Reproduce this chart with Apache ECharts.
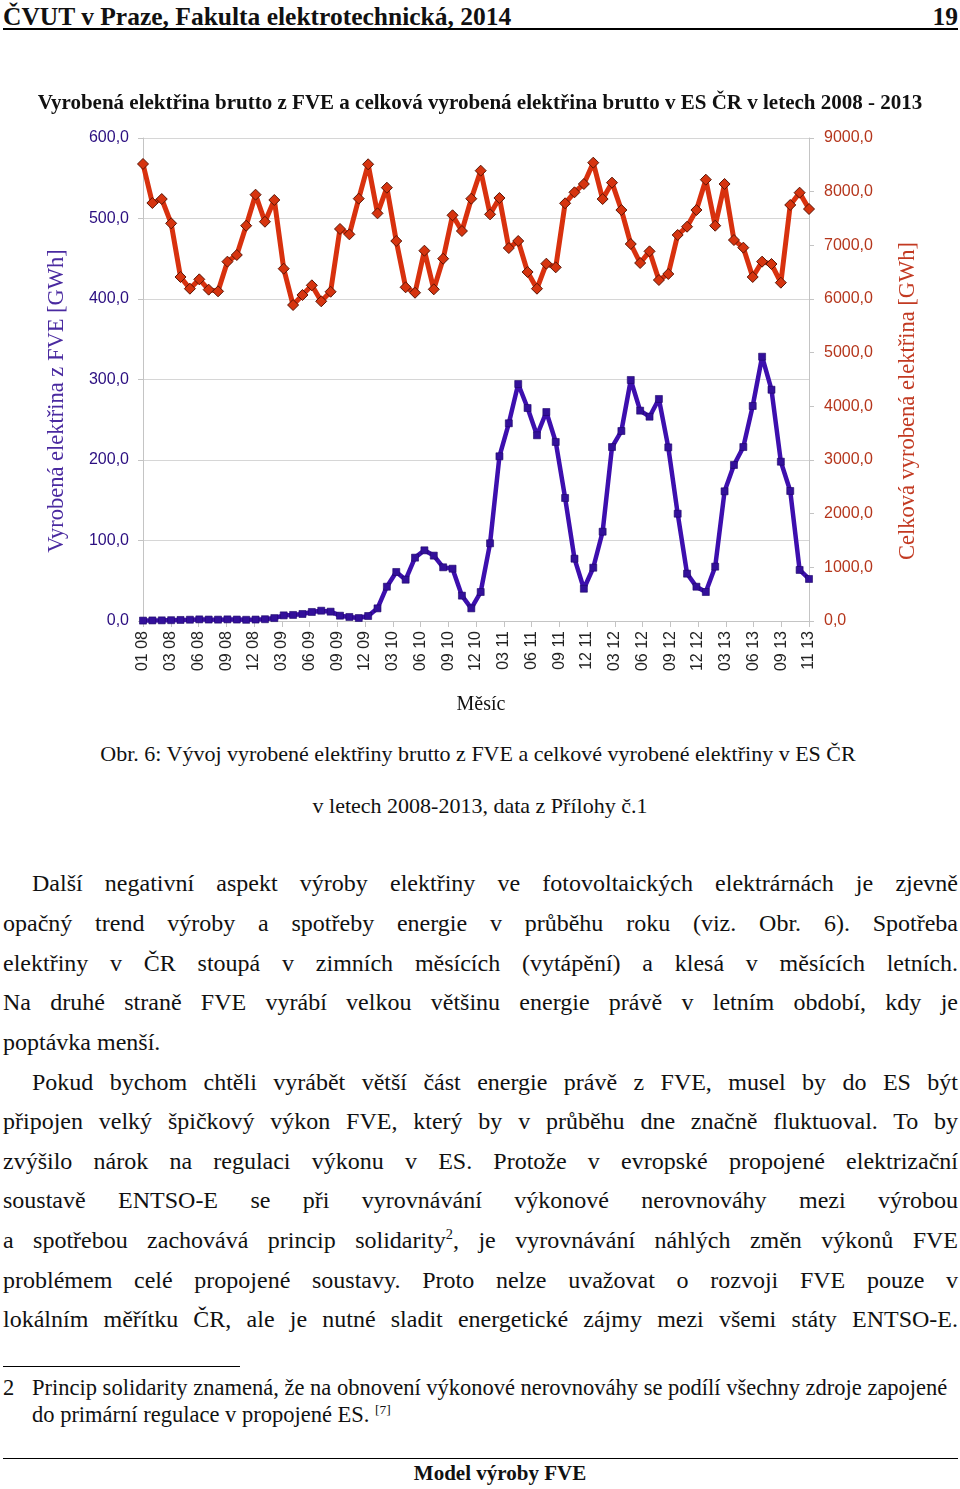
<!DOCTYPE html>
<html lang="cs">
<head>
<meta charset="utf-8">
<script src="https://cdn.jsdelivr.net/npm/echarts@6/dist/echarts.min.js"></script>
<style>
  html, body { margin: 0; padding: 0; background: #fff; }
  #page { position: relative; width: 960px; height: 1489px; background: #fff; color: #111; font-family: 'Liberation Serif', serif; }
  .abs { position: absolute; }
  #hdr { left: 3px; top: 2px; font-weight: bold; font-size: 25.5px; line-height: 29px; }
  #pgno { right: 2px; top: 2px; font-weight: bold; font-size: 25.5px; line-height: 29px; }
  #hrule { left: 3px; width: 955px; top: 28px; height: 2px; background: #000; }
  #chart { left: 0; top: 80px; width: 960px; height: 660px; }
  .cap { left: 0; width: 956px; text-align: center; font-size: 22px; line-height: 26px; }
  .ln { left: 3px; width: 955px; font-size: 24px; line-height: 30px; text-align: justify; text-align-last: justify; white-space: nowrap; }
  .ln.ind { left: 32px; width: 926px; }
  .ln.last { text-align-last: left; }
  #frule { left: 3px; width: 237px; top: 1366px; height: 1px; background: #000; }
  .fn { font-size: 22.5px; line-height: 26px; }
  #brule { left: 3px; width: 955px; top: 1458px; height: 1px; background: #000; }
  #footer { left: 0; width: 1000px; text-align: center; top: 1460px; font-weight: bold; font-size: 21px; line-height: 26px; }
  sup { font-size: 60%; line-height: 0; }
</style>
</head>
<body>
<div id="page">
  <div id="hdr" class="abs">ČVUT v Praze, Fakulta elektrotechnická, 2014</div>
  <div id="pgno" class="abs">19</div>
  <div id="hrule" class="abs"></div>
  <div id="chart" class="abs"></div>

  <div class="abs cap" style="top:741px;">Obr. 6: Vývoj vyrobené elektřiny brutto z FVE a celkové vyrobené elektřiny v ES ČR</div>
  <div class="abs cap" style="top:793px; width:960px;">v letech 2008-2013, data z Přílohy č.1</div>

  <div class="abs ln ind" style="top:868px;">Další negativní aspekt výroby elektřiny ve fotovoltaických elektrárnách je zjevně</div>
  <div class="abs ln" style="top:908px;">opačný trend výroby a spotřeby energie v průběhu roku (viz. Obr. 6). Spotřeba</div>
  <div class="abs ln" style="top:948px;">elektřiny v ČR stoupá v zimních měsících (vytápění) a klesá v měsících letních.</div>
  <div class="abs ln" style="top:987px;">Na druhé straně FVE vyrábí velkou většinu energie právě v letním období, kdy je</div>
  <div class="abs ln last" style="top:1027px;">poptávka menší.</div>
  <div class="abs ln ind" style="top:1067px;">Pokud bychom chtěli vyrábět větší část energie právě z FVE, musel by do ES být</div>
  <div class="abs ln" style="top:1106px;">připojen velký špičkový výkon FVE, který by v průběhu dne značně fluktuoval. To by</div>
  <div class="abs ln" style="top:1146px;">zvýšilo nárok na regulaci výkonu v ES. Protože v evropské propojené elektrizační</div>
  <div class="abs ln" style="top:1185px;">soustavě ENTSO-E se při vyrovnávání výkonové nerovnováhy mezi výrobou</div>
  <div class="abs ln" style="top:1225px;">a spotřebou zachovává princip solidarity<sup>2</sup>, je vyrovnávání náhlých změn výkonů FVE</div>
  <div class="abs ln" style="top:1265px;">problémem celé propojené soustavy. Proto nelze uvažovat o rozvoji FVE pouze v</div>
  <div class="abs ln" style="top:1304px;">lokálním měřítku ČR, ale je nutné sladit energetické zájmy mezi všemi státy ENTSO-E.</div>

  <div id="frule" class="abs"></div>
  <div class="abs fn" style="left:3px; top:1375px;">2</div>
  <div class="abs fn" style="left:32px; top:1375px;">Princip solidarity znamená, že na obnovení výkonové nerovnováhy se podílí všechny zdroje zapojené</div>
  <div class="abs fn" style="left:32px; top:1402px;">do primární regulace v propojené ES. <sup>[7]</sup></div>
  <div id="brule" class="abs"></div>
  <div id="footer" class="abs">Model výroby FVE</div>
</div>
<script>
// Month categories Jan 2008 .. Dec 2013 (72 months)
const years = [2008, 2009, 2010, 2011, 2012, 2013];
const months = [];
years.forEach(y => { for (let m = 1; m <= 12; m++) months.push((m < 10 ? '0' + m : '' + m) + ' ' + String(y).slice(2)); });

// Tick labels shown under the axis (as printed in the source)
const tickLabels = ['01 08','03 08','06 08','09 08','12 08','03 09','06 09','09 09','12 09',
  '03 10','06 10','09 10','12 10','03 11','06 11','09 11','12 11','03 12','06 12','09 12',
  '12 12','03 13','06 13','09 13','11 13'];

// Vyrobená elektřina z FVE [GWh] (left axis)
const fveGWh = [
  0.5, 0.7, 0.8, 1.0, 1.3, 1.6, 2.0, 1.8, 1.7, 2.0, 1.8, 1.5,
  1.8, 2.2, 3.6, 7.0, 7.5, 8.7, 11.2, 12.8, 11.6, 6.6, 5.0, 3.7,
  6.2, 15.7, 42.6, 60.9, 51.3, 78.7, 87.8, 81.2, 66.7, 65.0, 31.5, 15.7,
  36.0, 96.5, 204.6, 245.6, 294.4, 264.6, 230.7, 259.6, 222.4, 152.8, 77.4, 40.1,
  66.2, 110.9, 216.1, 236.0, 299.4, 261.3, 253.8, 275.8, 215.7, 133.3, 58.8, 42.6,
  36.0, 67.5, 161.1, 193.8, 216.1, 267.1, 328.3, 287.3, 197.9, 161.5, 63.4, 52.2
];

// Celková vyrobená elektřina [GWh] (right axis)
const totalGWh = [
  8516, 7789, 7863, 7410, 6410, 6192, 6366, 6174, 6143, 6696, 6820, 7366,
  7944, 7440, 7845, 6565, 5888, 6075, 6255, 5957, 6135, 7305, 7205, 7870,
  8510, 7596, 8074, 7081, 6218, 6117, 6900, 6180, 6751, 7560, 7267, 7869,
  8391, 7578, 7882, 6950, 7081, 6503, 6192, 6658, 6590, 7783, 7988, 8143,
  8540, 7863, 8168, 7658, 7025, 6671, 6888, 6354, 6466, 7193, 7347, 7658,
  8223, 7366, 8143, 7099, 6957, 6410, 6696, 6652, 6304, 7752, 7981, 7677
];

const fmt = v => v.toFixed(1).replace('.', ',');
const sans = 'Liberation Sans';
const serif = 'Liberation Serif';

const chart = echarts.init(document.getElementById('chart'), null, { renderer: 'canvas' });
chart.setOption({
  animation: false,
  backgroundColor: '#fff',
  title: {
    text: 'Vyrobená elektřina brutto z FVE a celková vyrobená elektřina brutto v ES ČR v letech 2008 - 2013',
    left: 'center', top: 8,
    textStyle: { fontFamily: serif, fontWeight: 'bold', fontSize: 21, color: '#111' }
  },
  grid: { left: 143, right: 151, top: 58, bottom: 119, containLabel: false },
  graphic: [
    {
      type: 'text', x: 57, y: 321, rotation: Math.PI / 2,
      style: { text: 'Vyrobená elektřina z FVE [GWh]', fontFamily: serif, fontSize: 22.5,
        fill: '#4a2aa0', align: 'center', verticalAlign: 'middle' }
    },
    {
      type: 'text', x: 908, y: 321, rotation: Math.PI / 2,
      style: { text: 'Celková vyrobená elektřina [GWh]', fontFamily: serif, fontSize: 22.5,
        fill: '#c23a22', align: 'center', verticalAlign: 'middle' }
    },
    {
      type: 'text', x: 481, y: 625,
      style: { text: 'Měsíc', fontFamily: serif, fontSize: 20, fill: '#111',
        align: 'center', verticalAlign: 'middle' }
    }
  ],
  xAxis: [
    {
      type: 'category', data: months, boundaryGap: false, position: 'bottom',
      axisLine: { lineStyle: { color: '#c4c4c4', width: 1 } },
      axisTick: { show: false }, axisLabel: { show: false }, splitLine: { show: false }
    },
    {
      type: 'category', data: tickLabels, boundaryGap: false, position: 'bottom',
      axisLine: { show: false },
      axisTick: { show: true, interval: 0, length: 6, lineStyle: { color: '#c4c4c4' } },
      axisLabel: { interval: 0, rotate: 90, margin: 10, fontFamily: sans, fontSize: 16, color: '#222' },
      splitLine: { show: false }
    }
  ],
  yAxis: [
    {
      type: 'value', min: 0, max: 600, interval: 100, position: 'left',
      axisLine: { show: true, lineStyle: { color: '#c4c4c4' } },
      axisTick: { show: true, length: 5, lineStyle: { color: '#c4c4c4' } },
      axisLabel: { formatter: fmt, margin: 14, fontFamily: sans, fontSize: 16, color: '#2b0e80' },
      splitLine: { show: true, lineStyle: { color: '#d6d6d6', width: 1 } }
    },
    {
      type: 'value', min: 0, max: 9000, interval: 1000, position: 'right',
      axisLine: { show: true, lineStyle: { color: '#c4c4c4' } },
      axisTick: { show: true, length: 5, lineStyle: { color: '#c4c4c4' } },
      axisLabel: { formatter: fmt, margin: 15, fontFamily: sans, fontSize: 16, color: '#b5361c' },
      splitLine: { show: false }
    }
  ],
  series: [
    {
      name: 'FVE', type: 'line', xAxisIndex: 0, yAxisIndex: 0, data: fveGWh,
      symbol: 'rect', symbolSize: 7, showAllSymbol: true,
      lineStyle: { color: '#3d0fae', width: 4.5 },
      itemStyle: { color: '#33109a', borderColor: '#1d0766', borderWidth: 0.6 },
      z: 2
    },
    {
      name: 'Celkem', type: 'line', xAxisIndex: 0, yAxisIndex: 1, data: totalGWh,
      symbol: 'diamond', symbolSize: 11, showAllSymbol: true,
      lineStyle: { color: '#d8310e', width: 5 },
      itemStyle: { color: '#d6340f', borderColor: '#5a1505', borderWidth: 1 },
      z: 3
    }
  ]
});
</script>
</body>
</html>
